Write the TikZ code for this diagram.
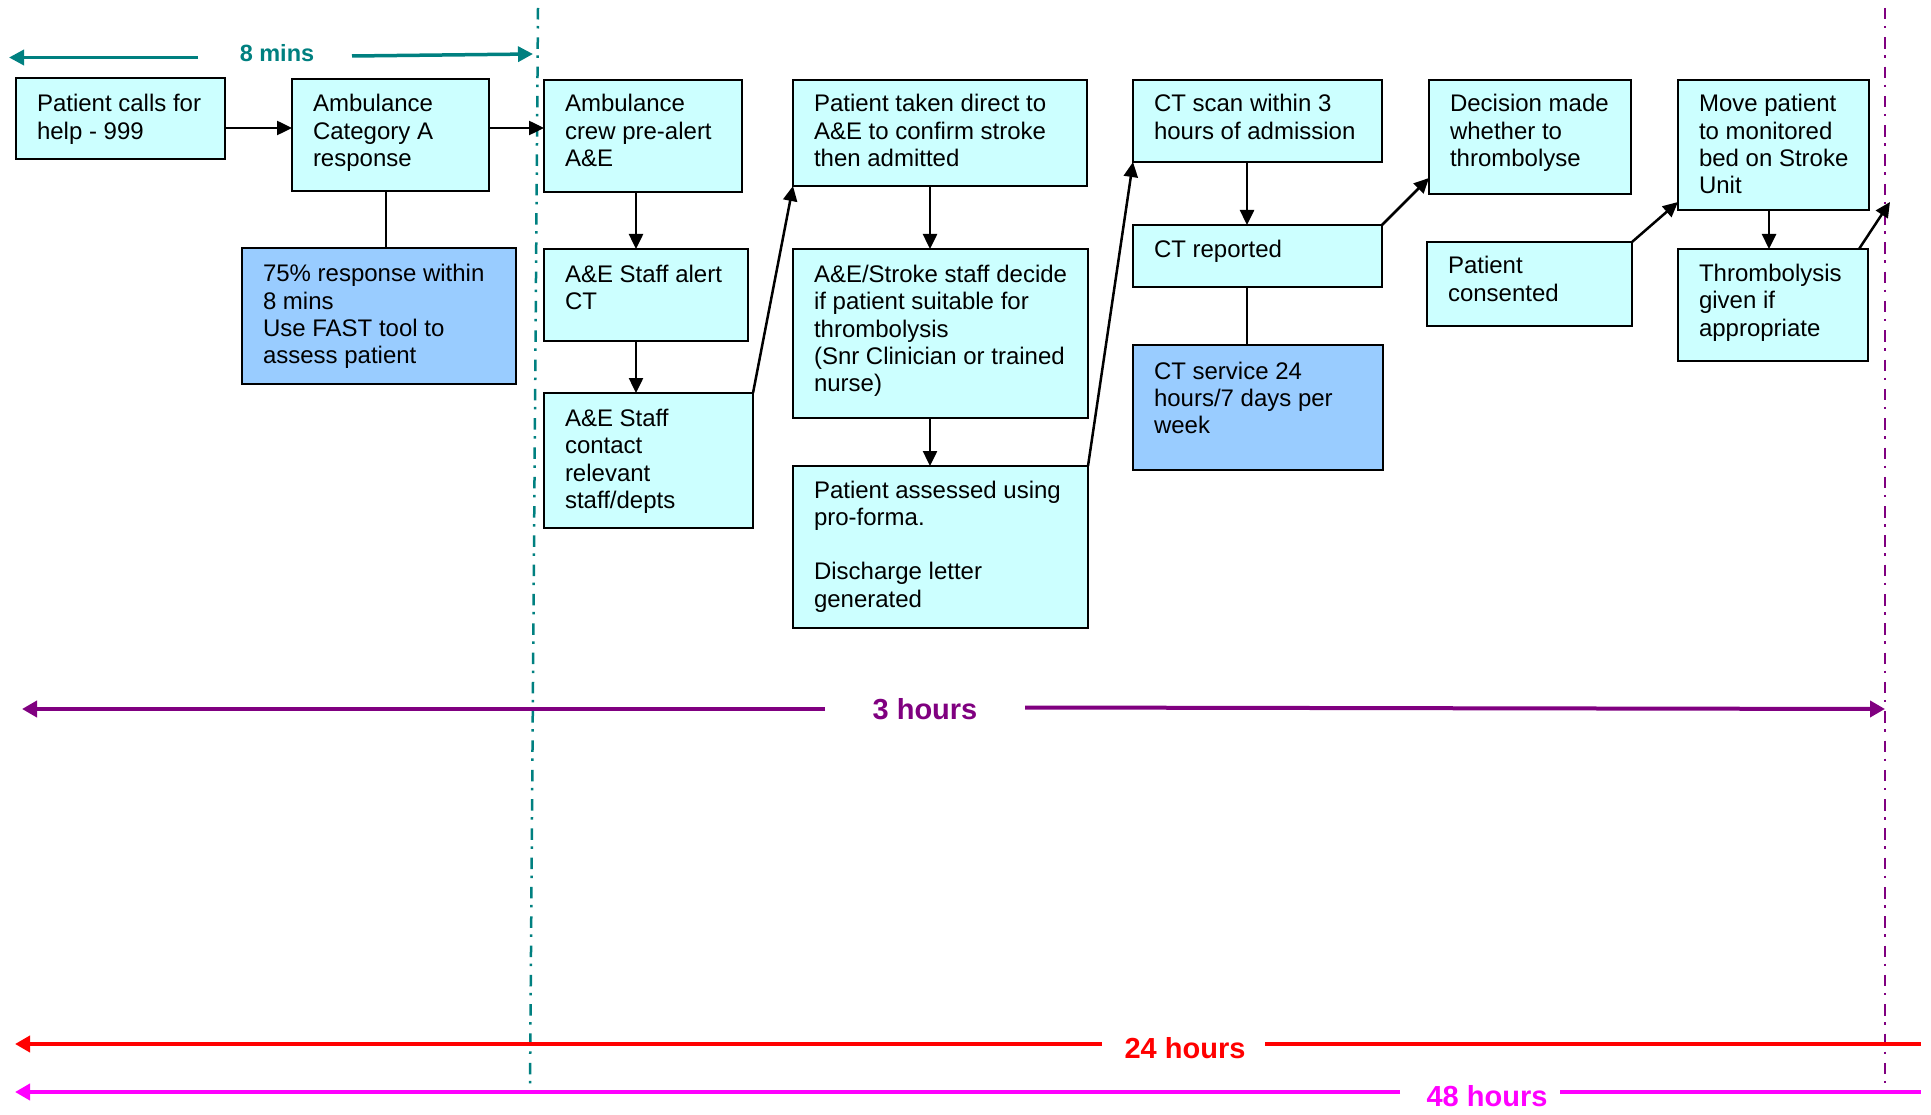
\documentclass[tikz,border=0pt]{standalone}
\usepackage{fontspec}
\setmainfont{Liberation Sans}
\usetikzlibrary{arrows.meta,calc}
\definecolor{boxcyan}{HTML}{CCFFFF}
\definecolor{boxblue}{HTML}{99CCFF}
\definecolor{tealc}{HTML}{008080}
\definecolor{purplec}{HTML}{800080}
\definecolor{magc}{HTML}{FF00FF}
\definecolor{redc}{HTML}{FF0000}
\newcommand{\boxfont}{\fontsize{24}{27.3}\selectfont}
\newcommand{\flowbox}[8]{%
  \node[flowframe,#2,anchor=north west] (#1) at (#3,#4)
   {\parbox[t][#6pt][t]{#5pt}{\boxfont\raggedright\leftskip=21pt\parindent=0pt\rule{0pt}{#7pt}#8}};}
\tikzset{
  flowframe/.style={draw=black, line width=2pt, inner sep=0pt, outer sep=0pt},
  cyanbox/.style={fill=boxcyan},
  bluebox/.style={fill=boxblue},
  arr/.style={-{Triangle[length=15pt,width=14pt]}, line width=2.5pt},
  plainline/.style={line width=2pt},
  dashdotline/.style={line width=2.5pt, dash pattern=on 11.5pt off 6.5pt on 2.5pt off 8.8pt},
  tealarr/.style={draw=tealc, line width=3.5pt, -{Triangle[length=15pt,width=15pt]}},
  purparr/.style={draw=purplec, line width=4pt, -{Triangle[length=15pt,width=16pt]}},
  redarr/.style={draw=redc, line width=4pt, -{Triangle[length=15pt,width=16pt]}},
  magarr/.style={draw=magc, line width=4pt, -{Triangle[length=15pt,width=16pt]}},
  timelabel/.style={inner sep=0pt, font=\bfseries\fontsize{29}{32}\selectfont},
}
\begin{document}
\begin{tikzpicture}[x=1pt,y=-1pt]
\fill[white] (0,0) rectangle (1931,1115);
\useasboundingbox (0,0) rectangle (1931,1115);

% vertical dash-dot time limits
\coordinate (tealtop) at (538,8);
\coordinate (tealbot) at (530,1086);
\coordinate (magtop) at (1885,8);
\coordinate (magbot) at (1885,1088);
\draw[dashdotline, draw=tealc] (tealtop) -- (tealbot);
\draw[dashdotline, draw=purplec] (magtop) -- (magbot);

% boxes
\flowbox{b1}{cyanbox}{16}{78}{209}{81}{34}{Patient calls for\\help - 999}
\flowbox{b2}{cyanbox}{292}{79}{197}{112}{33}{Ambulance\\Category A\\response}
\flowbox{b75}{bluebox}{242}{248}{274}{136}{34}{75\% response within\\8 mins\\Use FAST tool to\\assess patient}
\flowbox{b3}{cyanbox}{544}{80}{198}{112}{32}{Ambulance\\crew pre-alert\\A\&E}
\flowbox{b5}{cyanbox}{544}{249}{204}{92}{33.5}{A\&E Staff alert\\CT}
\flowbox{b6}{cyanbox}{544}{393}{209}{135}{33.5}{A\&E Staff\\contact\\relevant\\staff/depts}
\flowbox{b7}{cyanbox}{793}{80}{294}{106}{32}{Patient taken direct to\\A\&E to confirm stroke\\then admitted}
\flowbox{b8}{cyanbox}{793}{249}{295}{169}{33.5}{A\&E/Stroke staff decide\\if patient suitable for\\thrombolysis\\(Snr Clinician or trained\\nurse)}
\flowbox{b9}{cyanbox}{793}{466}{295}{162}{32}{Patient assessed using\\pro-forma.\\[27.3pt]Discharge letter\\generated}
\flowbox{b10}{cyanbox}{1133}{80}{249}{82}{32}{CT scan within 3\\hours of admission}
\flowbox{b11}{cyanbox}{1133}{225}{249}{62}{33}{CT reported}
\flowbox{b12}{bluebox}{1133}{345}{250}{125}{34}{CT service 24\\hours/7 days per\\week}
\flowbox{b13}{cyanbox}{1429}{80}{202}{114}{32}{Decision made\\whether to\\thrombolyse}
\flowbox{b14}{cyanbox}{1427}{242}{205}{84}{32}{Patient\\consented}
\flowbox{b15}{cyanbox}{1678}{80}{191}{130}{32}{Move patient\\to monitored\\bed on Stroke\\Unit}
\flowbox{b16}{cyanbox}{1678}{249}{190}{112}{32.5}{Thrombolysis\\given if\\appropriate}

% connectors
\path ([yshift=-9.5pt]b1.east) coordinate (c12);
\draw[arr] (c12) -- (c12 -| b2.west);
\path ([yshift=7pt]b2.east) coordinate (c23);
\draw[arr] (c23) -- (c23 -| b3.west);
\path ([xshift=-4.5pt]b2.south) coordinate (c2d);
\draw[plainline] (c2d) -- (c2d |- b75.north);
\path ([xshift=-7pt]b3.south) coordinate (c35);
\draw[arr] (c35) -- (c35 |- b5.north);
\path ([xshift=-10pt]b5.south) coordinate (c56);
\draw[arr] (c56) -- (c56 |- b6.north);
\draw[arr] (b6.north east) -- (b7.south west);
\path ([xshift=-10pt]b7.south) coordinate (c78);
\draw[arr] (c78) -- (c78 |- b8.north);
\path ([xshift=-10.5pt]b8.south) coordinate (c89);
\draw[arr] (c89) -- (c89 |- b9.north);
\draw[arr] (b9.north east) -- (b10.south west);
\path ([xshift=-10.5pt]b10.south) coordinate (c1011);
\draw[arr] (c1011) -- (c1011 |- b11.north);
\path ([xshift=-10.5pt]b11.south) coordinate (c1112);
\draw[plainline] (c1112) -- (c1112 |- b12.north);
\draw[arr] (b11.north east) -- ([yshift=16pt]b13.south west);
\draw[arr] (b14.north east) -- ([yshift=8pt]b15.south west);
\path ([xshift=-4.5pt]b15.south) coordinate (c1516);
\draw[arr] (c1516) -- (c1516 |- b16.north);
\coordinate (m16) at (1890,202);
\draw[arr] ([xshift=-9pt]b16.north east) -- (m16);

% 8 mins
\coordinate (e8l0) at (198,57.5);
\coordinate (e8l1) at (9,57.5);
\coordinate (e8r0) at (352,56);
\coordinate (e8r1) at (533,54);
\draw[tealarr] (e8l0) -- (e8l1);
\draw[tealarr] (e8r0) -- (e8r1);
\node[inner sep=0pt, text=tealc, font=\bfseries\fontsize{23.5}{26}\selectfont] (t8) at (277,53) {8 mins};

% 3 hours
\coordinate (h3l0) at (825,709);
\coordinate (h3l1) at (22,709);
\coordinate (h3r0) at (1025,707.5);
\coordinate (h3r1) at (1885,709);
\draw[purparr] (h3l0) -- (h3l1);
\draw[purparr] (h3r0) -- (h3r1);
\node[timelabel, text=purplec] (t3) at (925,709) {3 hours};

% 24 hours
\coordinate (h24l0) at (1102,1044);
\coordinate (h24l1) at (15,1044);
\coordinate (h24r0) at (1265,1044);
\coordinate (h24r1) at (1921,1044);
\draw[redarr] (h24l0) -- (h24l1);
\draw[draw=redc, line width=4pt] (h24r0) -- (h24r1);
\node[timelabel, text=redc] (t24) at (1185,1048) {24 hours};

% 48 hours
\coordinate (h48l0) at (1400,1092);
\coordinate (h48l1) at (15,1092);
\coordinate (h48r0) at (1560,1092);
\coordinate (h48r1) at (1921,1092);
\draw[magarr] (h48l0) -- (h48l1);
\draw[draw=magc, line width=4pt] (h48r0) -- (h48r1);
\node[timelabel, text=magc] (t48) at (1487,1096) {48 hours};
\end{tikzpicture}
\end{document}
